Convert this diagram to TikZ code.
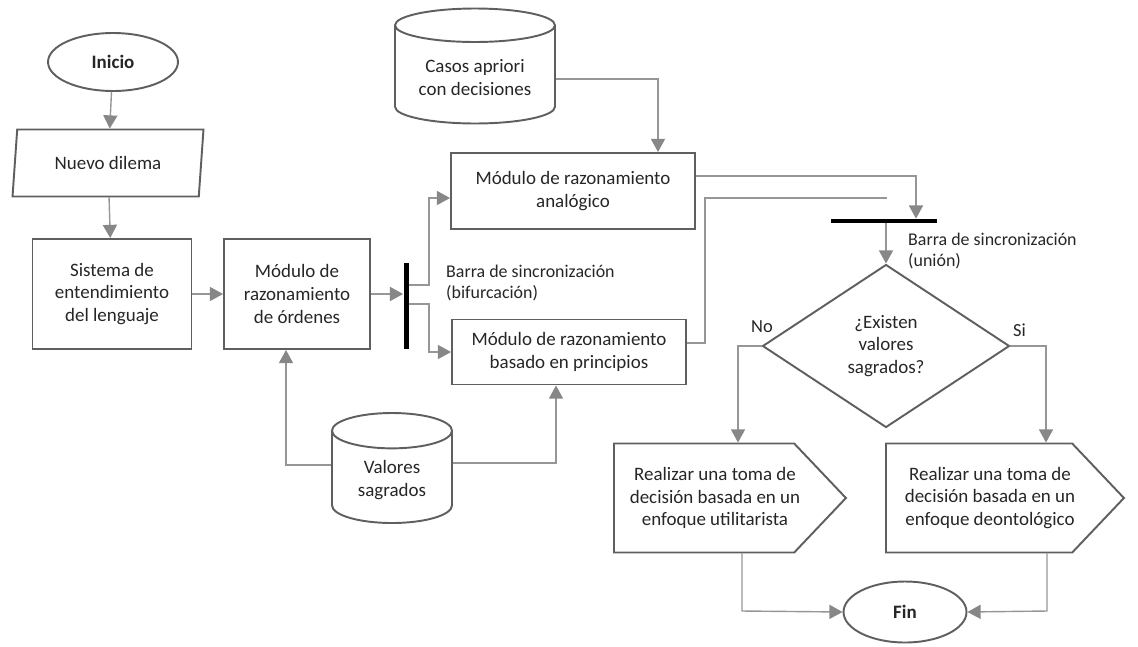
\documentclass[tikz,border=0pt]{standalone}
\usepackage{fontspec}
\setmainfont{Carlito}
\usepackage{tikz}
\usepackage{xcolor}
\usetikzlibrary{arrows.meta, positioning, shapes.geometric, shapes.symbols}
\definecolor{shapegray}{RGB}{95,95,95}
\definecolor{linegray}{RGB}{150,150,150}
\definecolor{tipgray}{RGB}{135,135,135}

\begin{document}
\begin{tikzpicture}[x=0.02cm, y=-0.02cm,
    txt/.style={font=\fontsize{10.8}{13}\selectfont, align=center, text=black!85},
    box/.style={txt, draw=shapegray, line width=1.1pt, rectangle, inner sep=2pt},
    terminal/.style={txt, draw=shapegray, line width=1.1pt, ellipse, inner sep=0pt, font=\fontsize{10.8}{13}\selectfont\bfseries},
    inputbox/.style={txt, draw=shapegray, line width=1.1pt, trapezium, trapezium left angle=77, trapezium right angle=103, trapezium stretches body=true, inner sep=2pt},
    store/.style={txt, draw=shapegray, line width=1.1pt, cylinder, shape border rotate=90, anchor=shape center, inner sep=2pt},
    decide/.style={txt, draw=shapegray, line width=1.1pt, diamond, inner sep=0pt},
    outcome/.style={draw=shapegray, line width=1.1pt, signal, signal to=east, signal pointer angle=93, inner sep=0pt, anchor=west},
    syncbar/.style={fill=black, rectangle, inner sep=0pt},
    conn/.style={draw=linegray, line width=0.8pt, -{Triangle[length=7.5pt, width=8pt, color=tipgray]}},
    wire/.style={draw=linegray, line width=0.8pt},
    note/.style={font=\fontsize{10.2}{12.2}\selectfont, align=left, anchor=west, text=black!85}]
        \useasboundingbox (0,0) rectangle (1138,646);

        \node[terminal, minimum width=2.6cm, minimum height=1.16cm] (inicio) at (113,62) {Inicio};
        \node[inputbox, minimum width=3.82cm, minimum height=1.34cm] (dilema) at (108,163) {Nuevo dilema};
        \node[box, minimum width=3.18cm, minimum height=2.2cm] (sistema) at (112,294) {Sistema de\\entendimiento\\del lenguaje};
        \node[box, minimum width=2.92cm, minimum height=2.2cm] (ordenes) at (297,294) {Módulo de\\razonamiento\\de órdenes};
        \node[syncbar, minimum width=0.1cm, minimum height=1.74cm] (forkbar) at (406,306) {};

        \node[store, aspect=0.28, minimum width=3.2cm, minimum height=2.3cm] (casos) at (475,66) {Casos apriori\\con decisiones};
        \node[box, minimum width=4.88cm, minimum height=1.52cm] (analogico) at (573,191) {Módulo de razonamiento\\analógico};
        \node[box, minimum width=4.68cm, minimum height=1.3cm] (principios) at (569,352) {Módulo de razonamiento\\basado en principios};
        \node[store, aspect=0.47, minimum width=2.4cm, minimum height=2.2cm] (valores) at (392,468) {Valores\\sagrados};

        \node[syncbar, minimum width=2.12cm, minimum height=0.08cm] (joinbar) at (884,221) {};
        \node[decide, minimum width=4.94cm, minimum height=3.26cm] (existen) at (886,346) {¿Existen\\valores\\sagrados?};
        \node[outcome, minimum width=4.64cm, minimum height=2.18cm] (utilitarista) at (613,498) {};
        \node[outcome, minimum width=4.76cm, minimum height=2.18cm] (deontologico) at (885,498) {};
        \node[txt] (utiltext) at (715,498) {Realizar una toma de\\decisión basada en un\\enfoque utilitarista};
        \node[txt] (deontext) at (990,498) {Realizar una toma de\\decisión basada en un\\enfoque deontológico};
        \node[terminal, minimum width=2.46cm, minimum height=1.22cm] (fin) at (905,612) {Fin};

        \node[note] (bifurcacion) at (440,283) {Barra de sincronización\\(bifurcación)};
        \node[note] (union) at (902,251) {Barra de sincronización\\(unión)};
        \node[note, font=\fontsize{10.5}{12}\selectfont] (no) at (745,327) {No};
        \node[note, font=\fontsize{10.5}{12}\selectfont] (si) at (1007,330) {Si};

        \coordinate (f1) at (429,285);
        \coordinate (f2) at (429,304);
        \coordinate (c1) at (658,79);
        \coordinate (v1) at (286,465);
        \coordinate (v2) at (556,463);
        \coordinate (a1) at (916,176);
        \coordinate (p1) at (705,343);
        \coordinate (p3) at (887,198);
        \coordinate (n1) at (738,346);
        \coordinate (s1) at (1046,346);
        \coordinate (u1) at (742,611);
        \coordinate (d1) at (1047,611);

        \foreach \to/\from in
        {inicio/dilema,dilema/sistema,sistema/ordenes} \draw [conn] (\to)--(\from);
        \draw[conn] (ordenes.east) -- (ordenes.east -| forkbar.west);
        \draw[conn] (forkbar.east |- f1) -- (f1) |- ([yshift=-0.14cm]analogico.west);
        \draw[conn] (forkbar.east |- f2) -- (f2) |- (principios.west);
        \draw[conn] (casos.east |- c1) -- (c1) -- (c1 |- analogico.north);
        \draw[conn] (valores.west |- v1) -- (v1) -- (v1 |- ordenes.south);
        \draw[conn] (valores.east |- v2) -- (v2) -- (v2 |- principios.south);
        \draw[conn] (analogico.east |- a1) -- (a1) -- (a1 |- joinbar.north);
        \draw[wire] (principios.east |- p1) -- (p1) |- (p3);
        \draw[conn] (joinbar.south -| existen.north) -- (existen.north);
        \draw[conn] (existen.west) -- (n1) -- (n1 |- utilitarista.north);
        \draw[conn] (existen.east) -- (s1) -- (s1 |- deontologico.north);
        \draw[conn] (u1 |- utilitarista.south) -- (u1) -- (fin.west);
        \draw[conn] (d1 |- deontologico.south) -- (d1) -- (fin.east);
\end{tikzpicture}
\end{document}
